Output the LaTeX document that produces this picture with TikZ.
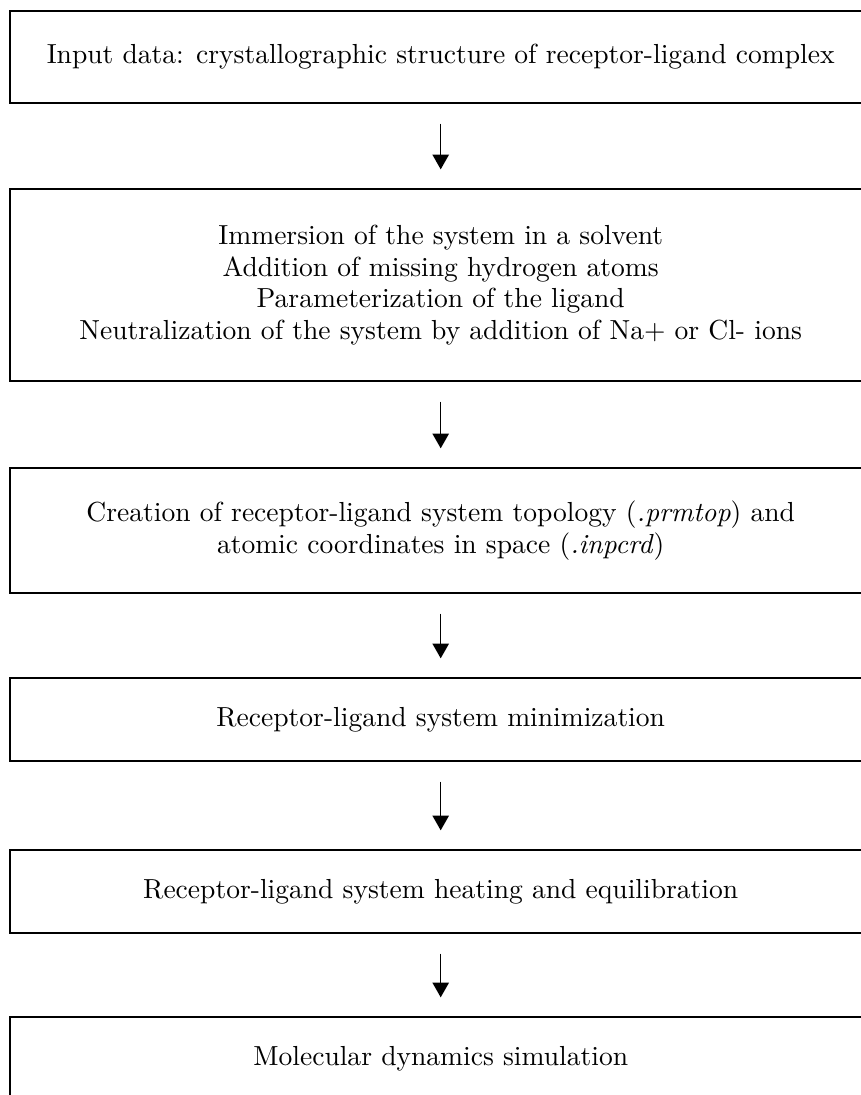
\documentclass[tikz,border=0pt]{standalone}
\usetikzlibrary{arrows.meta}

\begin{document}
\begin{tikzpicture}[x=0.381pt,y=-0.381pt,
  stage/.style={draw,line width=0.6pt,align=center,minimum width=328.2pt,inner sep=0pt,
    font=\fontsize{10.5pt}{12pt}\selectfont},
  flow/.style={line width=0.6pt,-{Triangle[length=5.6pt,width=6.2pt]},shorten <=7.6pt,shorten >=7.2pt}]
\useasboundingbox (0,0) rectangle (861,1095);
\node[stage,minimum height=35pt] (input) at (440.7,57) {Input data: crystallographic structure of receptor-ligand complex};
\node[stage,minimum height=73.1pt] (prep) at (440.7,285) {Immersion of the system in a solvent\\
  Addition of missing hydrogen atoms\\
  Parameterization of the ligand\\
  Neutralization of the system by addition of Na+ or Cl- ions};
\node[stage,minimum height=47.6pt] (topo) at (440.7,530.5) {Creation of receptor-ligand system topology (\textit{.prmtop}) and\\
  atomic coordinates in space (\textit{.inpcrd})};
\node[stage,minimum height=31.6pt] (mini) at (440.7,719.5) {Receptor-ligand system minimization};
\node[stage,minimum height=31.6pt] (heat) at (440.7,891.5) {Receptor-ligand system heating and equilibration};
\node[stage,minimum height=31.6pt] (md) at (440.7,1058.5) {Molecular dynamics simulation};
\draw[flow] (input) -- (prep);
\draw[flow] (prep) -- (topo);
\draw[flow] (topo) -- (mini);
\draw[flow] (mini) -- (heat);
\draw[flow] (heat) -- (md);
\end{tikzpicture}
\end{document}
